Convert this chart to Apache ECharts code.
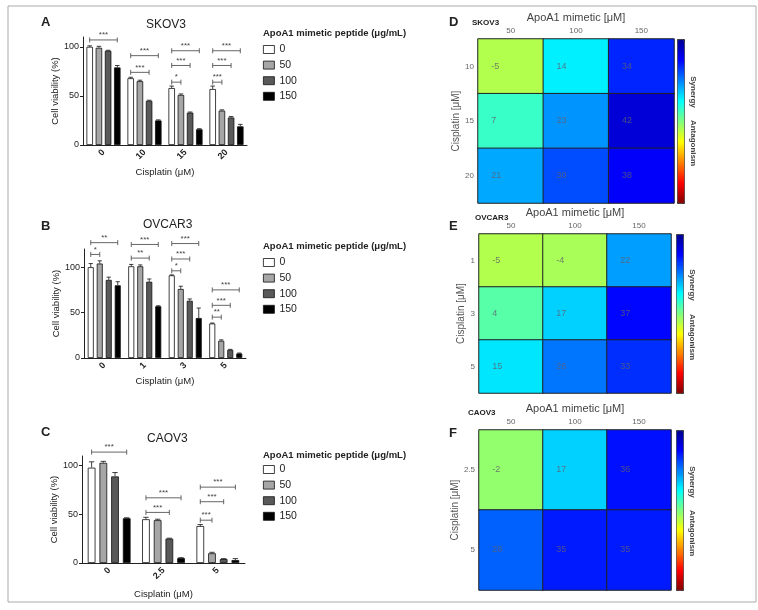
<!DOCTYPE html>
<html>
<head>
<meta charset="utf-8">
<script src="https://cdn.jsdelivr.net/npm/echarts@6/dist/echarts.min.js"></script>
<style>
  html, body { margin: 0; padding: 0; background: #fff; }
  #chart { width: 758px; height: 610px; }
</style>
</head>
<body>
<div id="chart"></div>
<script>
// ---- data ----
const peptideDoses = ['0', '50', '100', '150']
const barColors = ['#ffffff', '#a6a6a6', '#595959', '#000000']

// SKOV3 (rows = peptide dose, cols = cisplatin)
const skovCats = ['0', '10', '15', '20']
const skovMean = [[100, 68, 58, 57], [99, 65, 51, 35], [96, 45, 33, 28], [79, 25, 16, 19]]
const skovErr = [[1, 1, 2, 3], [1.5, 1, 1, 0.8], [0.5, 0.6, 0.6, 1], [2, 0.6, 0.6, 2]]
// [category, fromBar, toBar, y, label]
const skovSig = [[0, 0, 3, 107, '***'], [1, 0, 3, 91, '***'], [1, 0, 2, 74, '***'],
  [2, 0, 3, 96, '***'], [2, 0, 2, 81, '***'], [2, 0, 1, 64, '*'],
  [3, 0, 3, 96, '***'], [3, 0, 2, 81, '***'], [3, 0, 1, 64, '***']]

// OVCAR3
const ovcarCats = ['0', '1', '3', '5']
const ovcarMean = [[100, 101, 91, 38], [104, 101, 76, 19], [86, 84, 63, 9], [80, 57, 44, 5]]
const ovcarErr = [[4, 2, 0.5, 0.5], [3, 1.5, 3, 1], [3, 3, 2, 0.5], [4, 0.5, 11, 0.5]]
const ovcarSig = [[0, 0, 3, 127, '**'], [0, 0, 1, 114, '*'], [1, 0, 3, 125, '***'], [1, 0, 2, 110, '**'],
  [2, 0, 3, 126, '***'], [2, 0, 2, 109, '***'], [2, 0, 1, 96, '*'],
  [3, 0, 3, 75, '***'], [3, 0, 2, 58, '***'], [3, 0, 1, 45, '**']]

// CAOV3
const caovCats = ['0', '2.5', '5']
const caovMean = [[98, 45, 38], [103, 44, 10], [89, 25, 4], [46, 5, 3]]
const caovErr = [[6, 2, 1.5], [1.5, 1, 1], [4, 0.5, 0.5], [0.5, 0.5, 1.5]]
const caovSig = [[0, 0, 3, 114, '***'], [1, 0, 3, 67, '***'], [1, 0, 2, 52, '***'],
  [2, 0, 3, 78, '***'], [2, 0, 2, 63, '***'], [2, 0, 1, 44, '***']]

// synergy heatmaps (rows = cisplatin, cols = ApoA1 mimetic)
const apoDoses = ['50', '100', '150']
const skovCis = ['10', '15', '20']
const skovSyn = [[-5, 14, 34], [7, 23, 42], [21, 30, 38]]
const ovcarCis = ['1', '3', '5']
const ovcarSyn = [[-5, -4, 22], [4, 17, 37], [15, 26, 33]]
const caovCis = ['2.5', '5']
const caovSyn = [[-2, 17, 36], [28, 35, 35]]

const jet = ['#800000', '#ff0000', '#ff8000', '#ffff00', '#80ff80', '#00ffff', '#0080ff', '#0000ff', '#00008f']
const font = 'Arial, "Liberation Sans", sans-serif'

// ---- helpers ----
function barSeries(gi, means, barW, step) {
  return means.map((row, k) => ({
    name: peptideDoses[k],
    type: 'bar',
    xAxisIndex: gi,
    yAxisIndex: gi,
    data: row,
    barWidth: barW,
    barGap: ((step - barW) / barW * 100) + '%',
    silent: true,
    itemStyle: { color: barColors[k], borderColor: '#111', borderWidth: 0.8 },
  }))
}

function errSeries(gi, means, errs, barW, step) {
  const data = []
  means.forEach((row, k) => row.forEach((v, c) => data.push([c, v, errs[k][c], k])))
  return {
    type: 'custom', xAxisIndex: gi, yAxisIndex: gi, data: data, encode: { x: 0, y: 1 },
    silent: true, z: 3,
    renderItem(params, api) {
      const c = api.value(0), v = api.value(1), e = api.value(2), k = api.value(3)
      const p0 = api.coord([c, v])
      const p1 = api.coord([c, v + e])
      const x = p0[0] + (k - 1.5) * step
      const w = barW * 0.35
      const st = { stroke: '#111', lineWidth: 0.8 }
      return {
        type: 'group', children: [
          { type: 'line', shape: { x1: x, y1: p0[1], x2: x, y2: p1[1] }, style: st },
          { type: 'line', shape: { x1: x - w, y1: p1[1], x2: x + w, y2: p1[1] }, style: st },
        ],
      }
    },
  }
}

function sigSeries(gi, sig, step) {
  return {
    type: 'custom', xAxisIndex: gi, yAxisIndex: gi,
    data: sig.map(s => [s[0], s[1], s[2], s[3]]), encode: { x: 0, y: 3 },
    silent: true, z: 4,
    renderItem(params, api) {
      const c = api.value(0), k1 = api.value(1), k2 = api.value(2), yv = api.value(3)
      const p = api.coord([c, yv])
      const x1 = p[0] + (k1 - 1.5) * step
      const x2 = p[0] + (k2 - 1.5) * step
      const y = p[1]
      const st = { stroke: '#555', lineWidth: 0.9 }
      return {
        type: 'group', children: [
          { type: 'line', shape: { x1: x1, y1: y, x2: x2, y2: y }, style: st },
          { type: 'line', shape: { x1: x1, y1: y - 2.5, x2: x1, y2: y + 2.5 }, style: st },
          { type: 'line', shape: { x1: x2, y1: y - 2.5, x2: x2, y2: y + 2.5 }, style: st },
          { type: 'text', style: { x: (x1 + x2) / 2, y: y - 1, text: sig[params.dataIndex][4], align: 'center', verticalAlign: 'bottom', fontSize: 8, fill: '#444', fontFamily: font } },
        ],
      }
    },
  }
}

function heatData(rows) {
  const out = []
  rows.forEach((row, r) => row.forEach((v, c) => out.push([c, r, v])))
  return out
}

function barAxes(gi, cats, max, nameGap) {
  return {
    x: {
      type: 'category', gridIndex: gi, data: cats,
      axisLine: { lineStyle: { color: '#222', width: 1 } },
      axisTick: { length: 3, lineStyle: { color: '#222' } },
      axisLabel: { rotate: 45, fontSize: 9, color: '#222', margin: 6, fontWeight: 'bold', fontFamily: font },
      name: 'Cisplatin (μM)', nameLocation: 'middle', nameGap: nameGap,
      nameTextStyle: { fontSize: 9.5, color: '#222', fontFamily: font },
    },
    y: {
      type: 'value', gridIndex: gi, min: 0, max: max, interval: 50,
      splitLine: { show: false },
      axisLine: { show: true, lineStyle: { color: '#222', width: 1 } },
      axisTick: { show: true, length: 3, lineStyle: { color: '#222' } },
      axisLabel: { fontSize: 9, color: '#222', margin: 4, fontFamily: font, showMaxLabel: false },
      name: 'Cell viability (%)', nameLocation: 'middle', nameGap: 19,
      nameTextStyle: { fontSize: 9.5, color: '#222', fontFamily: font },
    },
  }
}

function heatAxes(gi, rowsLabels) {
  return {
    x: {
      type: 'category', gridIndex: gi, data: apoDoses, position: 'top',
      axisLine: { show: false }, axisTick: { show: false }, splitArea: { show: false },
      axisLabel: { fontSize: 8, color: '#666', margin: 4, fontFamily: font },
      name: 'ApoA1 mimetic [μM]', nameLocation: 'middle', nameGap: 16,
      nameTextStyle: { fontSize: 11, color: '#444', fontFamily: font },
    },
    y: {
      type: 'category', gridIndex: gi, data: rowsLabels, inverse: true,
      axisLine: { show: false }, axisTick: { show: false }, splitArea: { show: false },
      axisLabel: { fontSize: 8, color: '#666', margin: 4, fontFamily: font },
      name: 'Cisplatin [μM]', nameLocation: 'middle', nameGap: 13,
      nameTextStyle: { fontSize: 10, color: '#555', fontFamily: font },
    },
  }
}

function heatSeries(gi, rows) {
  return {
    type: 'heatmap', xAxisIndex: gi, yAxisIndex: gi, data: heatData(rows), silent: true,
    itemStyle: { borderColor: '#222', borderWidth: 1 },
    label: {
      show: true, position: 'insideLeft', distance: 14, fontSize: 9, fontFamily: font,
      color: 'rgba(95,95,110,0.8)', formatter: p => p.value[2],
    },
  }
}

function colorBar(si, left, top, h) {
  return {
    type: 'continuous', seriesIndex: si, min: -50, max: 50, calculable: false,
    left: left, top: top, itemWidth: 7, itemHeight: h, text: null,
    padding: 0, borderColor: '#333', borderWidth: 1,
    inRange: { color: jet },
  }
}

function txt(text, left, top, size, bold, color) {
  return { text: text, left: left, top: top, textStyle: { fontSize: size, fontWeight: bold ? 'bold' : 'normal', color: color || '#222', fontFamily: font } }
}

function sideText(text, x, y) {
  return {
    type: 'text', x: x, y: y, rotation: -Math.PI / 2,
    style: { text: text, align: 'center', verticalAlign: 'middle', fontSize: 8, fontWeight: 'bold', fill: '#444', fontFamily: font },
  }
}

// ---- chart ----
const A = barAxes(0, skovCats, 110, 22)
const B = barAxes(1, ovcarCats, 120, 18)
const C = barAxes(2, caovCats, 110, 26)
const D = heatAxes(3, skovCis)
const E = heatAxes(4, ovcarCis)
const F = heatAxes(5, caovCis)

const legendBase = {
  data: peptideDoses, orient: 'vertical', icon: 'rect', itemWidth: 11, itemHeight: 8, itemGap: 4.6,
  selectedMode: false, itemStyle: { borderWidth: 0.8, borderColor: '#111' },
  textStyle: { fontSize: 10.5, color: '#222', fontFamily: font },
}

const series = [].concat(
  barSeries(0, skovMean, 6.5, 9.2), [errSeries(0, skovMean, skovErr, 6.5, 9.2), sigSeries(0, skovSig, 9.2)],
  barSeries(1, ovcarMean, 6, 9), [errSeries(1, ovcarMean, ovcarErr, 6, 9), sigSeries(1, ovcarSig, 9)],
  barSeries(2, caovMean, 7.7, 11.7), [errSeries(2, caovMean, caovErr, 7.7, 11.7), sigSeries(2, caovSig, 11.7)],
  [heatSeries(3, skovSyn), heatSeries(4, ovcarSyn), heatSeries(5, caovSyn)]
)

const myChart = echarts.init(document.getElementById('chart'))
myChart.setOption({
  animation: false,
  backgroundColor: '#fff',
  title: [
    txt('A', 36, 11, 13, true), txt('SKOV3', 141, 14, 12, false),
    txt('ApoA1 mimetic peptide (μg/mL)', 258, 23, 9.5, true),
    txt('B', 36, 215, 13, true), txt('OVCAR3', 138, 214, 12, false),
    txt('ApoA1 mimetic peptide (μg/mL)', 258, 236, 9.5, true),
    txt('C', 36, 421, 13, true), txt('CAOV3', 142, 428, 12, false),
    txt('ApoA1 mimetic peptide (μg/mL)', 258, 445, 9.5, true),
    txt('D', 444, 11, 13, true), txt('SKOV3', 467, 14, 8, true),
    txt('E', 444, 215, 13, true), txt('OVCAR3', 470, 209, 8, true),
    txt('F', 444, 422, 13, true), txt('CAOV3', 463, 404, 8, true),
  ],
  legend: [
    Object.assign({ left: 258, top: 39 }, legendBase),
    Object.assign({ left: 258, top: 252 }, legendBase),
    Object.assign({ left: 258, top: 459 }, legendBase),
  ],
  grid: [
    { left: 83, right: 511, top: 37, bottom: 465 },
    { left: 84, right: 512, top: 249, bottom: 252 },
    { left: 82, right: 513, top: 456, bottom: 47 },
    { left: 478, right: 84, top: 39, bottom: 407 },
    { left: 479, right: 87, top: 234, bottom: 217 },
    { left: 479, right: 87, top: 430, bottom: 20 },
  ],
  xAxis: [A.x, B.x, C.x, D.x, E.x, F.x],
  yAxis: [A.y, B.y, C.y, D.y, E.y, F.y],
  visualMap: [
    colorBar(18, 677, 39, 164),
    colorBar(19, 676, 234, 159),
    colorBar(20, 676, 430, 160),
  ],
  graphic: [
    { type: 'rect', shape: { x: 8, y: 6, width: 748, height: 596 }, style: { fill: 'none', stroke: '#aaa', lineWidth: 1 }, silent: true },
    sideText('Synergy', 693, 92), sideText('Antagonism', 693, 143),
    sideText('Synergy', 692, 285), sideText('Antagonism', 692, 337),
    sideText('Synergy', 692, 482), sideText('Antagonism', 692, 533),
  ],
  series: series,
})
</script>
</body>
</html>
